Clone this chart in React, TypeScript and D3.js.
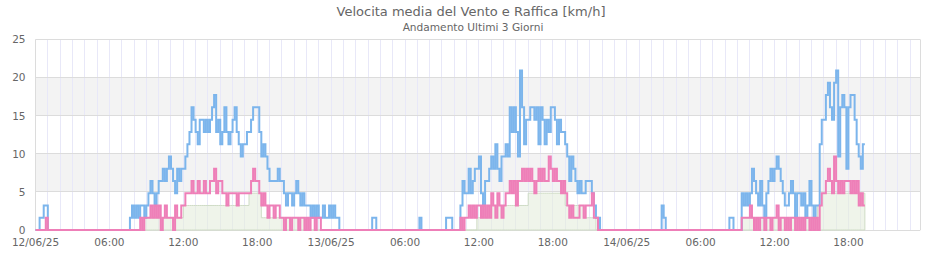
import React from 'react';
import * as d3 from 'd3';

const TITLE = 'Velocita media del Vento e Raffica [km/h]';
const SUBTITLE = 'Andamento Ultimi 3 Giorni';
const MPH_TO_KMH = 1.609344;
const SAMPLE_MINUTES = 10;
const START = new Date(2025, 5, 12, 0, 0);
const END = new Date(2025, 5, 14, 23, 50);
const yTickValues = [0, 5, 10, 15, 20, 25];
const bandRanges = [[5, 10], [15, 20]];

// values in mph steps (x 1.609 = km/h), one row per hour, 10-minute samples
const gustDay1 = [
  0,0,1,1,2,2, 0,0,0,0,0,0, 0,0,0,0,0,0, 0,0,0,0,0,0,
  0,0,0,0,0,0, 0,0,0,0,0,0, 0,0,0,0,0,0, 0,0,0,0,1,2,
  1,2,1,2,2,1, 2,3,4,3,2,3, 4,4,5,4,5,6, 5,4,3,5,4,5,
  5,6,7,8,10,9, 8,7,9,9,8,9, 8,9,10,11,8,9, 7,8,10,8,7,8,
  9,10,8,7,6,7, 7,8,8,9,10,10, 10,8,6,7,6,5, 4,4,4,4,5,4,
  4,3,2,3,3,2, 3,4,3,2,3,2, 2,2,1,2,1,2, 1,1,2,1,1,2,
];
const gustDay2 = [
  1,2,1,1,0,0, 0,0,0,0,0,0, 0,0,0,0,0,0, 0,0,1,1,0,0,
  0,0,0,0,0,0, 0,0,0,0,0,0, 0,0,0,0,0,0, 0,1,0,0,0,0,
  0,0,0,0,0,0, 0,0,1,1,1,0, 0,0,0,2,4,3, 3,5,3,4,5,5,
  6,3,2,4,4,5, 6,5,7,5,4,6, 6,7,6,10,8,10, 8,6,13,10,7,9,
  9,10,10,9,10,7, 10,9,7,9,8,10, 10,9,7,9,8,8, 7,6,4,6,5,4,
  3,4,3,3,4,4, 4,3,2,1,1,0, 0,0,0,0,0,0, 0,0,0,0,0,0,
];
const gustDay3 = [
  0,0,0,0,0,0, 0,0,0,0,0,0, 0,0,0,0,0,2, 1,0,0,0,0,0,
  0,0,0,0,0,0, 0,0,0,0,0,0, 0,0,0,0,0,0, 0,0,0,0,0,0,
  0,0,1,1,0,0, 0,0,3,2,3,2, 3,5,4,3,2,4, 2,1,3,4,5,4,
  5,6,5,4,3,2, 2,3,4,3,1,3, 3,2,3,1,2,4, 2,1,2,2,7,9,
  9,11,12,10,9,12, 13,6,10,11,10,5, 10,11,11,9,7,6, 5,7,
];

const meanDay1 = [
  0,0,0,0,0,1, 0,0,0,0,0,0, 0,0,0,0,0,0, 0,0,0,0,0,0,
  0,0,0,0,0,0, 0,0,0,0,0,0, 0,0,0,0,0,0, 0,0,0,0,0,0,
  0,0,0,1,0,1, 1,1,2,1,2,1, 2,0,1,2,1,1, 1,0,2,1,1,2,
  2,3,3,3,4,3, 3,4,3,3,4,3, 3,4,4,5,3,4, 4,3,3,2,3,3,
  3,3,2,3,3,3, 3,3,3,4,5,4, 4,3,2,3,2,1, 2,2,1,2,2,1,
  1,0,1,1,0,1, 1,1,0,1,1,0, 1,0,1,1,0,1, 1,0,0,0,0,0,
];
const meanDay2 = [
  0,0,0,0,0,0, 0,0,0,0,0,0, 0,0,0,0,0,0, 0,0,0,0,0,0,
  0,0,0,0,0,0, 0,0,0,0,0,0, 0,0,0,0,0,0, 0,0,0,0,0,0,
  0,0,0,0,0,0, 0,0,0,0,0,0, 0,0,0,1,0,1, 1,2,1,2,1,2,
  2,1,2,1,2,1, 3,2,1,3,2,1, 2,3,3,4,3,4, 2,4,4,5,4,5,
  4,5,4,3,4,5, 4,5,4,4,6,5, 4,5,4,4,3,4, 3,2,1,2,1,1,
  1,2,2,1,2,2, 2,3,1,1,0,0, 0,0,0,0,0,0, 0,0,0,0,0,0,
];
const meanDay3 = [
  0,0,0,0,0,0, 0,0,0,0,0,0, 0,0,0,0,0,0, 0,0,0,0,0,0,
  0,0,0,0,0,0, 0,0,0,0,0,0, 0,0,0,0,0,0, 0,0,0,0,0,0,
  0,0,0,0,0,0, 0,0,1,1,1,1, 2,1,0,1,0,1, 1,0,1,1,0,1,
  1,2,0,1,1,0, 1,0,1,1,0,1, 0,1,0,1,1,0, 1,0,1,0,2,3,
  3,4,5,4,3,6, 4,3,4,3,4,4, 4,3,4,3,4,2, 3,2,
];

const avgDay1 = [
  0,0,0,0,0,0, 0,0,0,0,0,0, 0,0,0,0,0,0, 0,0,0,0,0,0,
  0,0,0,0,0,0, 0,0,0,0,0,0, 0,0,0,0,0,0, 0,0,0,0,0,0,
  0,0,0,0,1,1, 1,1,1,1,1,1, 1,1,1,1,1,1, 1,1,1,1,1,1,
  2,2,2,2,2,2, 2,2,2,2,2,2, 2,2,2,2,2,2, 2,2,2,2,2,2,
  2,2,2,2,2,2, 2,2,3,3,3,3, 3,3,1,1,1,1, 1,1,1,1,1,1,
  1,1,1,1,1,1, 1,1,1,1,1,1, 0,0,0,0,0,0, 0,0,0,0,0,0,
];
const avgDay2 = [
  0,0,0,0,0,0, 0,0,0,0,0,0, 0,0,0,0,0,0, 0,0,0,0,0,0,
  0,0,0,0,0,0, 0,0,0,0,0,0, 0,0,0,0,0,0, 0,0,0,0,0,0,
  0,0,0,0,0,0, 0,0,0,0,0,0, 0,0,0,0,0,0, 0,0,0,0,0,1,
  1,1,1,1,1,2, 2,2,2,2,2,2, 2,2,2,2,2,2, 2,2,2,2,2,2,
  3,3,3,3,3,3, 3,3,3,3,3,3, 3,3,3,3,3,3, 2,2,2,2,2,2,
  2,2,2,1,1,1, 1,1,1,0,0,0, 0,0,0,0,0,0, 0,0,0,0,0,0,
];
const avgDay3 = [
  0,0,0,0,0,0, 0,0,0,0,0,0, 0,0,0,0,0,0, 0,0,0,0,0,0,
  0,0,0,0,0,0, 0,0,0,0,0,0, 0,0,0,0,0,0, 0,0,0,0,0,0,
  0,0,0,0,0,0, 0,0,1,1,1,1, 1,1,1,1,1,1, 1,1,1,1,1,1,
  1,1,1,1,1,1, 1,1,1,1,1,1, 1,1,1,1,1,1, 1,1,1,2,2,3,
  3,3,3,3,3,3, 3,3,3,3,3,3, 3,3,3,3,3,3, 3,3,
];

type Pt = { t: Date; v: number };

function toPoints(levels: number[]): Pt[] {
  const pts = levels.map((lv, i) => ({
    t: new Date(START.getTime() + i * SAMPLE_MINUTES * 60000),
    v: lv * MPH_TO_KMH,
  }));
  const last = levels[levels.length - 1];
  pts.push({
    t: new Date(START.getTime() + levels.length * SAMPLE_MINUTES * 60000),
    v: last * MPH_TO_KMH,
  });
  return pts;
}

const W = 940;
const H = 260;
const PLOT_LEFT = 35.5;
const PLOT_RIGHT = 920.3;
const PLOT_TOP = 39.5;
const PLOT_BOTTOM = 230;
const FONT = '"DejaVu Sans", Verdana, sans-serif';

export default function App() {
  const x = d3.scaleTime().domain([START, END]).range([PLOT_LEFT, PLOT_RIGHT]);
  const y = d3.scaleLinear().domain([0, 25]).range([PLOT_BOTTOM, PLOT_TOP]);

  const gust = toPoints([...gustDay1, ...gustDay2, ...gustDay3]);
  const mean = toPoints([...meanDay1, ...meanDay2, ...meanDay3]);
  const avg = toPoints([...avgDay1, ...avgDay2, ...avgDay3]);

  const line = d3
    .line<Pt>()
    .x((d) => x(d.t))
    .y((d) => y(d.v))
    .curve(d3.curveStepAfter);
  const area = d3
    .area<Pt>()
    .x((d) => x(d.t))
    .y0(y(0))
    .y1((d) => y(d.v))
    .curve(d3.curveStepAfter);

  const hourTicks = x.ticks(d3.timeHour.every(1) as any);
  const labelTicks = x.ticks(d3.timeHour.every(6) as any);
  const fmtDay = d3.timeFormat('%d/%m/%y');
  const fmtHour = d3.timeFormat('%H:%M');
  const crisp = (v: number) => Math.floor(v) + 0.5;

  return (
    <svg
      width={W}
      height={H}
      style={{ position: 'absolute', left: 0, top: 0, background: '#fff' }}
      fontFamily={FONT}
    >
      <rect x={0} y={0} width={W} height={H} fill="#fff" />
      <text x={471} y={15.5} textAnchor="middle" fontSize={13} fill="#666">
        {TITLE}
      </text>
      <text x={473} y={31} textAnchor="middle" fontSize={10.6} fill="#666">
        {SUBTITLE}
      </text>

      {bandRanges.map(([a, b]) => (
        <rect
          key={a}
          x={PLOT_LEFT}
          y={y(b)}
          width={PLOT_RIGHT - PLOT_LEFT}
          height={y(a) - y(b)}
          fill="#f3f3f3"
        />
      ))}

      {hourTicks.map((t) => (
        <line
          key={+t}
          x1={crisp(x(t))}
          x2={crisp(x(t))}
          y1={PLOT_TOP}
          y2={PLOT_BOTTOM}
          stroke="#e8e8f8"
          strokeWidth={1}
        />
      ))}

      {yTickValues.map((v) => (
        <g key={v}>
          <line
            x1={PLOT_LEFT}
            x2={PLOT_RIGHT}
            y1={crisp(y(v))}
            y2={crisp(y(v))}
            stroke="#dcdcdc"
            strokeWidth={1}
          />
          <text x={25.5} y={y(v) + 3.8} textAnchor="end" fontSize={10.5} fill="#666">
            {v}
          </text>
        </g>
      ))}

      <line x1={crisp(PLOT_LEFT)} x2={crisp(PLOT_LEFT)} y1={PLOT_TOP} y2={PLOT_BOTTOM} stroke="#dcdcdc" />
      <line x1={crisp(PLOT_RIGHT)} x2={crisp(PLOT_RIGHT)} y1={PLOT_TOP} y2={PLOT_BOTTOM} stroke="#dcdcdc" />

      <path d={area(avg) || ''} fill="#e4eddc" fillOpacity={0.6} stroke="#cfdcc6" strokeWidth={1} />
      <path d={line(gust) || ''} fill="none" stroke="#7cb5ec" strokeWidth={2} />
      <path d={line(mean) || ''} fill="none" stroke="#ee7fb8" strokeWidth={2} />

      {labelTicks.map((t) => (
        <text
          key={+t}
          x={x(t)}
          y={246}
          textAnchor="middle"
          fontSize={10.5}
          fill="#666"
        >
          {t.getHours() === 0 ? fmtDay(t) : fmtHour(t)}
        </text>
      ))}
    </svg>
  );
}
